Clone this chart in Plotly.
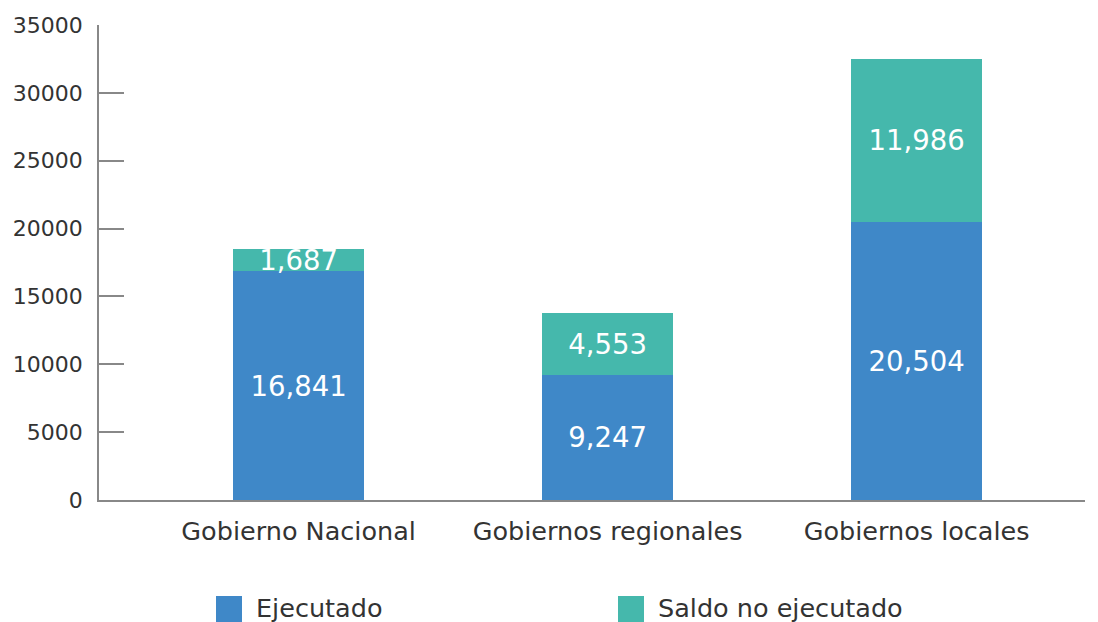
import plotly.graph_objects as go

categories = ["Gobierno Nacional", "Gobiernos regionales", "Gobiernos locales"]
ejecutado = [16841, 9247, 20504]
saldo = [1687, 4553, 11986]
series_names = ["Ejecutado", "Saldo no ejecutado"]
colors = ["#3F88C8", "#45B8AC"]

fig = go.Figure()
for name, vals, col in zip(series_names, [ejecutado, saldo], colors):
    fig.add_trace(go.Bar(
        x=categories, y=vals, name=name, marker=dict(color=col, line=dict(width=0)),
        width=0.424,
        text=[f"{v:,}" for v in vals], textposition="inside", insidetextanchor="middle",
        constraintext="none", textangle=0,
        textfont=dict(family="DejaVu Sans", size=27.5, color="white"),
        showlegend=False,
    ))

fig.update_layout(
    barmode="stack",
    width=1098, height=622,
    margin=dict(l=99, r=13, t=25, b=122),
    plot_bgcolor="white", paper_bgcolor="white",
    font=dict(family="DejaVu Sans", color="#333333", size=22),
    xaxis=dict(range=[-0.646, 2.545], showline=True, linecolor="#888888", linewidth=2,
               ticks="", showgrid=False, ticklabelstandoff=7,
               tickfont=dict(size=25.5, color="#333333")),
    yaxis=dict(range=[0, 35000], dtick=5000, tickformat="d", showline=True,
               linecolor="#888888", linewidth=1.5, ticks="inside", ticklen=25,
               tickcolor="#888888", tickwidth=1.5, showgrid=False, zeroline=False,
               ticklabelstandoff=10, tickfont=dict(size=22, color="#333333")),
)

# legend drawn as swatches + labels beneath the plot
legend_x = [216, 618]
for name, col, lx in zip(series_names, colors, legend_x):
    x0 = (lx - 99) / 986
    x1 = (lx + 26 - 99) / 986
    fig.add_shape(type="rect", xref="paper", yref="paper", x0=x0, x1=x1,
                  y0=(500 - 596) / 475, y1=(500 - 622) / 475,
                  fillcolor=col, line=dict(width=0))
    fig.add_annotation(xref="paper", yref="paper", x=(lx + 38 - 99) / 986, y=(500 - 608) / 475,
                       text=name, showarrow=False, xanchor="left", yanchor="middle",
                       font=dict(size=25.5, color="#333333"))

fig.write_html("out.html", config={"displayModeBar": False},
               post_script="document.body.style.margin='0';document.body.style.overflow='hidden';")
